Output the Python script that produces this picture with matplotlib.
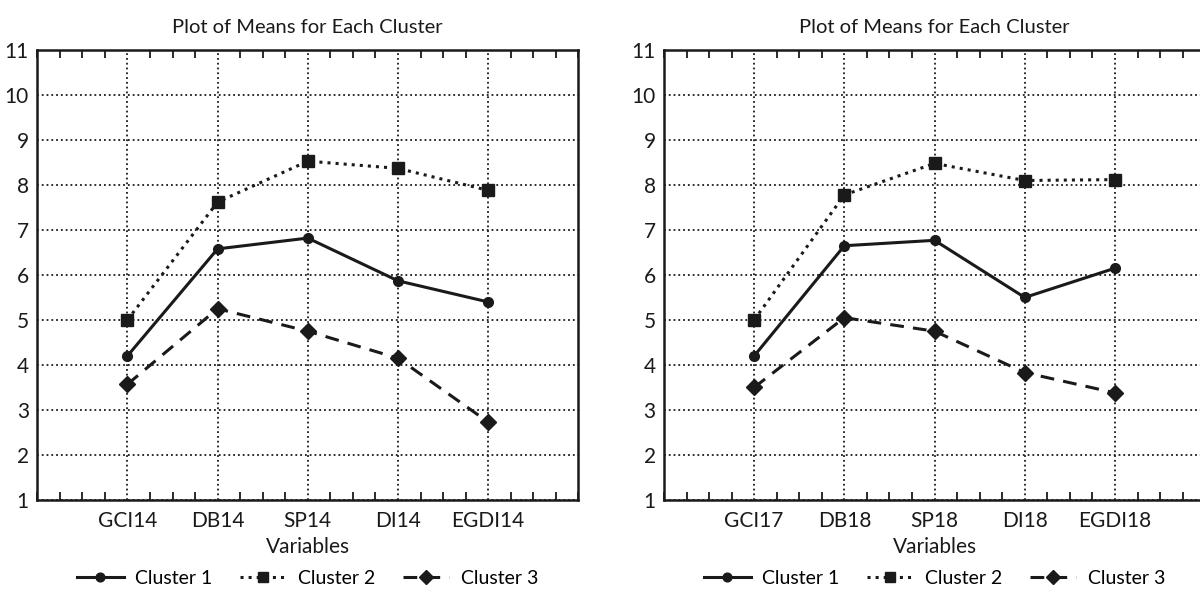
import numpy as np
import matplotlib
from matplotlib import pyplot as plt
from matplotlib.ticker import MultipleLocator

plt.rcParams['font.family'] = ['Lato', 'DejaVu Sans']
matplotlib.rcParams['font.size'] = 13

vars_left = ['GCI14', 'DB14', 'SP14', 'DI14', 'EGDI14']
vars_right = ['GCI17', 'DB18', 'SP18', 'DI18', 'EGDI18']

c1_left = [4.2, 6.58, 6.82, 5.87, 5.4]
c2_left = [5.0, 7.62, 8.53, 8.37, 7.88]
c3_left = [3.57, 5.25, 4.75, 4.15, 2.73]

c1_right = [4.2, 6.65, 6.77, 5.5, 6.15]
c2_right = [5.0, 7.78, 8.48, 8.1, 8.12]
c3_right = [3.5, 5.05, 4.75, 3.83, 3.38]

fig = plt.figure(figsize=(12, 6.03), dpi=100)
ax1 = fig.add_axes([0.031, 0.171, 0.451, 0.746])
ax2 = fig.add_axes([0.5533, 0.171, 0.451, 0.746])


def panel(ax, labels, s1, s2, s3):
    x = np.arange(1, len(labels) + 1)
    l1, = ax.plot(x, s1, '-', color='#1a1a1a', lw=2.2, marker='o', ms=7, label='Cluster 1')
    l2, = ax.plot(x, s2, ':', color='#1a1a1a', lw=2.2, marker='s', ms=8, label='Cluster 2')
    l3, = ax.plot(x, s3, '--', color='#1a1a1a', lw=2.2, marker='D', ms=8, dashes=(4.5, 3), label='Cluster 3')
    ax.set_xlim(0, 6)
    ax.set_ylim(1, 11)
    ax.set_xticks(x)
    ax.set_xticklabels(labels)
    ax.xaxis.set_minor_locator(MultipleLocator(0.25))
    ax.set_yticks(range(1, 12))
    ax.grid(True, which='major', color='#1a1a1a', linestyle=':', lw=1.3)
    ax.tick_params(axis='x', which='both', direction='in', top=True, length=6, width=1.3, colors='#1a1a1a')
    ax.tick_params(axis='x', which='major', length=0, pad=8, labelcolor='#1a1a1a')
    ax.tick_params(axis='y', length=0, pad=6, labelsize=15, labelcolor='#1a1a1a')
    ax.tick_params(axis='x', labelsize=15)
    for s in ax.spines.values():
        s.set_linewidth(1.8)
        s.set_color('#1a1a1a')
    ax.set_title('Plot of Means for Each Cluster', fontsize=14.5, pad=12, color='#1a1a1a')
    ax.set_xlabel('Variables', fontsize=15, labelpad=4, color='#1a1a1a')
    ax.legend(handles=[l1, l2, l3], loc='center', bbox_to_anchor=(0.5, -0.174),
              ncol=3, frameon=False, fontsize=14, handlelength=2.4, columnspacing=1.4,
              handletextpad=0.6, markerscale=0.9)


panel(ax1, vars_left, c1_left, c2_left, c3_left)
panel(ax2, vars_right, c1_right, c2_right, c3_right)

fig.savefig('out.png', dpi=100)
